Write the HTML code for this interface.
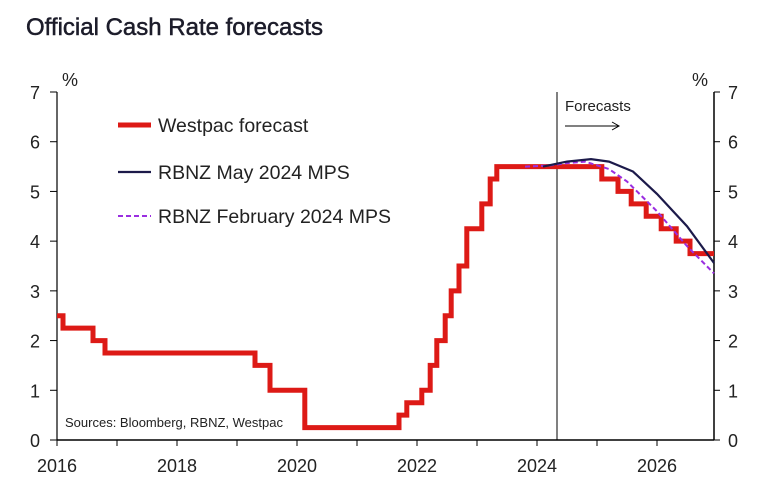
<!DOCTYPE html>
<html><head><meta charset="utf-8"><style>
body{margin:0;background:#fff;width:760px;height:492px;overflow:hidden;font-family:"Liberation Sans",sans-serif}
</style></head><body>
<svg id="c" width="760" height="492" style="position:absolute;left:0;top:0">
<text x="26" y="35" font-size="24" fill="#1c1c2a" stroke="#1c1c2a" stroke-width="0.5">Official Cash Rate forecasts</text>
</svg>
<script>
const wYears=[2016,2016.1,2016.6,2016.8,2019.3,2019.55,2020.13,2021.7,2021.83,2022.08,2022.22,2022.33,2022.47,2022.57,2022.7,2022.83,2023.08,2023.22,2023.33,2025.08,2025.35,2025.57,2025.82,2026.07,2026.32,2026.55];
const wVals=[2.5,2.25,2.0,1.75,1.5,1.0,0.25,0.5,0.75,1.0,1.5,2.0,2.5,3.0,3.5,4.25,4.75,5.25,5.5,5.25,5.0,4.75,4.5,4.25,4.0,3.75];
const mayYears=[2024.1,2024.5,2024.9,2025.2,2025.6,2026.0,2026.5,2026.95];
const mayVals=[5.5,5.6,5.65,5.6,5.4,4.95,4.3,3.56];
const febYears=[2023.8,2024.2,2024.5,2024.8,2025.2,2025.5,2026.0,2026.5,2026.95];
const febVals=[5.5,5.52,5.57,5.6,5.45,5.2,4.6,3.9,3.35];
const xTicks=[2016,2018,2020,2022,2024,2026];
const yTicks=[0,1,2,3,4,5,6,7];
const X0=57,X1=714,Y0=440,Y1=92,yrMin=2016,yrMax=2026.95;
const xs=v=>X0+(v-yrMin)/(yrMax-yrMin)*(X1-X0);
const ys=v=>Y0-(v/7)*(Y0-Y1);
const svg=document.getElementById('c');const NS='http://www.w3.org/2000/svg';
function mk(t,a,p){const e=document.createElementNS(NS,t);for(const k in a)e.setAttribute(k,a[k]);(p||svg).appendChild(e);return e;}
let e=mk('line',{x1:X0,y1:Y0,x2:X1,y2:Y0,stroke:'#000','stroke-width':1.5});


e=mk('line',{x1:X0,y1:Y0,x2:X0,y2:Y1,stroke:'#000','stroke-width':1.2});


e=mk('line',{x1:X1,y1:Y0,x2:X1,y2:Y1,stroke:'#000','stroke-width':1.5});


for(let y=2016;y<=2026;y++){mk('line',{x1:xs(y),y1:Y0,x2:xs(y),y2:Y0+6,stroke:'#000','stroke-width':1});}
xTicks.forEach(t=>{const l=mk('text',{x:xs(t),y:472,'font-size':18,'text-anchor':'middle',fill:'#222'});l.textContent=t;

});
yTicks.forEach(t=>{let l=mk('text',{x:40,y:ys(t)+7,'font-size':18,'text-anchor':'end',fill:'#222'});l.textContent=t;


l=mk('text',{x:728,y:ys(t)+7,'font-size':18,fill:'#222'});l.textContent=t;


mk('line',{x1:X0-7,y1:ys(t),x2:X0,y2:ys(t),stroke:'#000','stroke-width':1});
mk('line',{x1:X1,y1:ys(t),x2:X1+6,y2:ys(t),stroke:'#000','stroke-width':1});});
let p=mk('text',{x:62,y:86,'font-size':18,fill:'#222'});p.textContent='%';


p=mk('text',{x:692,y:86,'font-size':18,fill:'#222'});p.textContent='%';


e=mk('line',{x1:557,y1:Y1,x2:557,y2:Y0,stroke:'#000','stroke-width':1});


p=mk('text',{x:565,y:111,'font-size':15,fill:'#222'});p.textContent='Forecasts';


mk('line',{x1:565,y1:126,x2:618,y2:126,stroke:'#000','stroke-width':1});
mk('path',{d:'M612,122 L619,126 L612,130',fill:'none',stroke:'#000','stroke-width':1});
let d='';wYears.forEach((y,i)=>{const nx=i+1<wYears.length?xs(wYears[i+1]):X1;d+=(i?'L':'M')+xs(y)+','+ys(wVals[i])+' L'+nx+','+ys(wVals[i])+' ';});
e=mk('path',{d:d,fill:'none',stroke:'#dd1a16','stroke-width':5});


function smooth(xa,va){return xa.map((y,i)=>(i?'L':'M')+xs(y)+','+ys(va[i])).join(' ');}
e=mk('path',{d:smooth(febYears,febVals),fill:'none',stroke:'#9a2ee0','stroke-width':2,'stroke-dasharray':'5,3'});


e=mk('path',{d:smooth(mayYears,mayVals),fill:'none',stroke:'#1c1a4a','stroke-width':2.2});


const lg=[['Westpac forecast','#dd1a16',5,'',125],['RBNZ May 2024 MPS','#1c1a4a',2.2,'',172],['RBNZ February 2024 MPS','#9a2ee0',2,'5,3',216]];
lg.forEach(l=>{const g=mk('g',{});


mk('line',{x1:118,y1:l[4],x2:151,y2:l[4],stroke:l[1],'stroke-width':l[2],'stroke-dasharray':l[3]},g);
const t=mk('text',{x:158,y:l[4]+7,'font-size':19.5,fill:'#222'},g);t.textContent=l[0];});
p=mk('text',{x:65,y:427,'font-size':13,fill:'#222'});p.textContent='Sources: Bloomberg, RBNZ, Westpac';


</script>
</body></html>
